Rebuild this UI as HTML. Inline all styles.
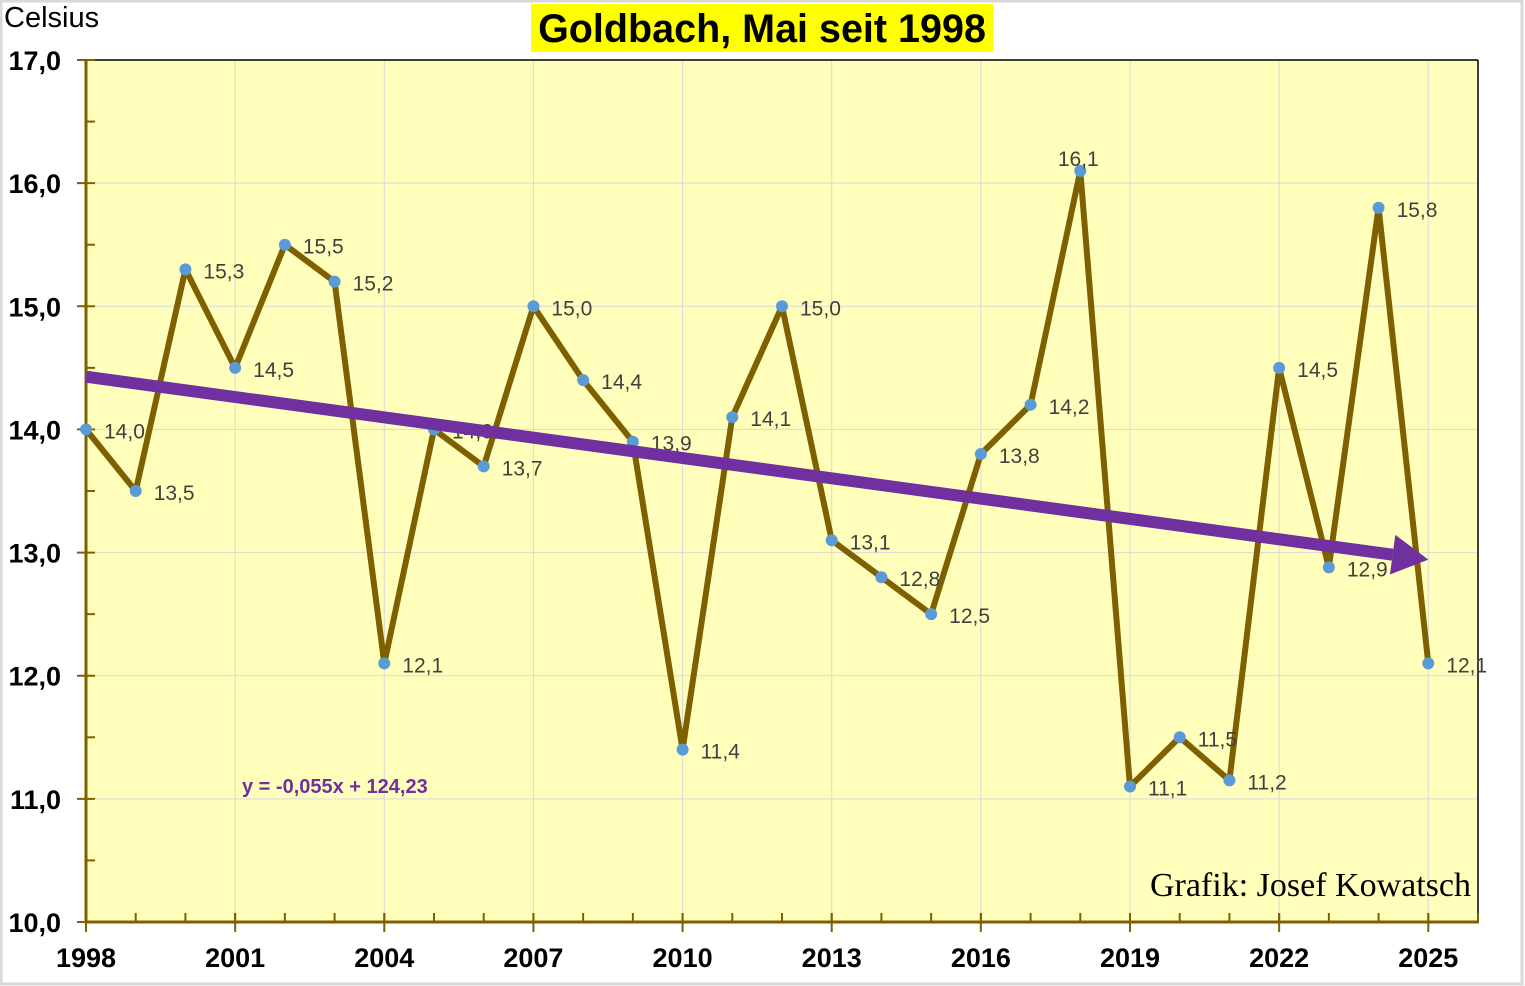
<!DOCTYPE html>
<html><head><meta charset="utf-8"><style>
body{margin:0;background:#fff}
svg{display:block}
</style></head><body>
<svg width="1525" height="986" xmlns="http://www.w3.org/2000/svg" id="c">
<rect x="1" y="1" width="1521" height="983" fill="#fff" stroke="#d9d9d9" stroke-width="3"/>
<rect x="86" y="60" width="1392" height="862" fill="#ffffbb"/>
<g id="grid"></g>
<line x1="86" y1="60" x2="1478" y2="60" stroke="#000" stroke-width="1.5"/>
<line x1="1478" y1="60" x2="1478" y2="922" stroke="#000" stroke-width="1.5"/>
<g id="axes"></g>
<g id="trend"></g>
<g id="series"></g>
<rect x="531" y="4" width="462" height="48" fill="#ffff00"/>
<text x="762" y="42" text-anchor="middle" font-family="Liberation Sans, sans-serif" font-weight="bold" font-size="39.5" fill="#000">Goldbach, Mai seit 1998</text>
<text x="4" y="27" font-family="Liberation Sans, sans-serif" font-size="29" fill="#000">Celsius</text>
<text x="242" y="793" font-family="Liberation Sans, sans-serif" font-weight="bold" font-size="20" fill="#7030a0">y = -0,055x + 124,23</text>
<text x="1471" y="896" text-anchor="end" font-family="Liberation Serif, serif" font-size="34" fill="#000">Grafik: Josef Kowatsch</text>
</svg>
<script>
const years=[1998,1999,2000,2001,2002,2003,2004,2005,2006,2007,2008,2009,2010,2011,2012,2013,2014,2015,2016,2017,2018,2019,2020,2021,2022,2023,2024,2025];
const temps=[14.0,13.5,15.3,14.5,15.5,15.2,12.1,14.0,13.7,15.0,14.4,13.9,11.4,14.1,15.0,13.1,12.8,12.5,13.8,14.2,16.1,11.1,11.5,11.15,14.5,12.88,15.8,12.1];
const labels=["14,0","13,5","15,3","14,5","15,5","15,2","12,1","14,0","13,7","15,0","14,4","13,9","11,4","14,1","15,0","13,1","12,8","12,5","13,8","14,2","16,1","11,1","11,5","11,2","14,5","12,9","15,8","12,1"];
const yTicks=[10,11,12,13,14,15,16,17];
const yTickLabels=["10,0","11,0","12,0","13,0","14,0","15,0","16,0","17,0"];
const xTickYears=[1998,2001,2004,2007,2010,2013,2016,2019,2022,2025];
const trendSlope=-0.055, trendIntercept=124.23;

const NS="http://www.w3.org/2000/svg";
const X=y=>86+(y-1998)*(1392/28);
const Y=v=>922-(v-10)*(862/7);
function mk(tag,attrs,parent){const e=document.createElementNS(NS,tag);for(const k in attrs)e.setAttribute(k,attrs[k]);document.getElementById(parent).appendChild(e);return e;}
const F="Liberation Sans, sans-serif";
yTicks.forEach(v=>{if(v===10||v===17)return;
 const l=mk('line',{x1:86,x2:1478,y1:Y(v),y2:Y(v),stroke:'#d9d9d9','stroke-width':1},'grid');
 
 });
xTickYears.forEach(yr=>{if(yr===1998)return;
 const l=mk('line',{x1:X(yr),x2:X(yr),y1:60,y2:922,stroke:'#d9d9d9','stroke-width':1},'grid');
 
 });
const ya=mk('line',{x1:86,x2:86,y1:60,y2:922,stroke:'#7f6000','stroke-width':3},'axes');


const xa=mk('line',{x1:86,x2:1479,y1:922,y2:922,stroke:'#7f6000','stroke-width':3},'axes');


yTicks.forEach((v,i)=>{
 const t=mk('line',{x1:77,x2:95,y1:Y(v),y2:Y(v),stroke:'#7f6000','stroke-width':2},'axes');
 
 
 if(v<17){const m=mk('line',{x1:86,x2:95,y1:Y(v+0.5),y2:Y(v+0.5),stroke:'#7f6000','stroke-width':2},'axes');
 
 }
 const tx=mk('text',{x:61,y:Y(v)+10,'text-anchor':'end','font-family':F,'font-weight':'bold','font-size':27,fill:'#000'},'axes');
 tx.textContent=yTickLabels[i];
 
 
});
for(let yr=1999;yr<=2026;yr++){
 const m=mk('line',{x1:X(yr),x2:X(yr),y1:913,y2:922,stroke:'#7f6000','stroke-width':2},'axes');
 
 
}
xTickYears.forEach(yr=>{
 const t=mk('line',{x1:X(yr),x2:X(yr),y1:913,y2:932,stroke:'#7f6000','stroke-width':2},'axes');
 
 
 const tx=mk('text',{x:X(yr),y:967,'text-anchor':'middle','font-family':F,'font-weight':'bold','font-size':27,fill:'#000'},'axes');
 tx.textContent=yr;
 
 
});
const pts=years.map((y,i)=>X(y)+','+Y(temps[i])).join(' ');
const pl=mk('polyline',{points:pts,fill:'none',stroke:'#7f6000','stroke-width':6,'stroke-linejoin':'round'},'series');


years.forEach((y,i)=>{
 const c=mk('circle',{cx:X(y),cy:Y(temps[i]),r:6,fill:'#5b9bd5'},'series');
 
 
 const above=temps[i]===Math.max(...temps);
 const t=mk('text',{x:above?X(y)-2:X(y)+18,y:above?Y(temps[i])-5:Y(temps[i])+9,'text-anchor':above?'middle':'start','font-family':F,'font-size':21,fill:'#404040'},'series');
 t.textContent=labels[i];
 
 
});
const tv=y=>trendSlope*y+trendIntercept;
const x0=X(1998),y0=Y(tv(1998)+0.088),x1=X(2025),y1=Y(tv(2025)+0.088);
const dx=x1-x0,dy=y1-y0,L=Math.hypot(dx,dy),ux=dx/L,uy=dy/L;
const bx=x1-ux*36,by=y1-uy*36;
const sh=mk('line',{x1:x0,y1:y0,x2:bx,y2:by,stroke:'#7030a0','stroke-width':12},'trend');


const hd=mk('polygon',{points:`${x1},${y1} ${bx-uy*20},${by+ux*20} ${bx+uy*20},${by-ux*20}`,fill:'#7030a0'},'trend');


document.getElementById('c').appendChild(document.getElementById('trend'));
</script>
</body></html>
